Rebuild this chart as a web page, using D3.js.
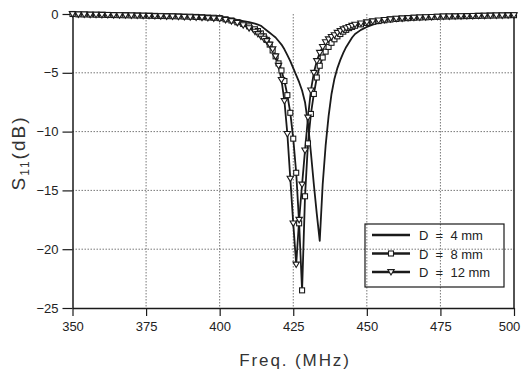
<!DOCTYPE html>
<html>
<head>
<meta charset="utf-8">
<script src="https://cdn.jsdelivr.net/npm/d3@7"></script>
<style>
  body { margin: 0; background: #fff; }
  svg { display: block; font-family: "Liberation Sans", Arial, sans-serif; }
</style>
</head>
<body>
<div id="chart"></div>
<script>
// Frequency grid (MHz) shared by the three curves
const FREQ = [350,352,354,356,358,360,362,364,366,368,370,372,374,376,378,380,382,384,386,388,390,392,394,396,398,
  400,402,404,406,408,410,412,
  413,414,415,416,417,418,419,420,421,422,423,424,425,426,427,428,429,430,431,432,433,434,435,436,437,438,439,440,441,442,443,444,445,446,
  448,450,452,454,456,458,460,462,464,466,468,470,472,474,476,478,480,482,484,486,488,490,492,494,496,498,500];

// S11 (dB)
const S11_D4 = [0,-0.02,-0.03,-0.04,-0.05,-0.06,-0.07,-0.08,-0.09,-0.1,-0.1,-0.11,-0.12,-0.13,-0.14,-0.15,-0.16,-0.17,-0.18,-0.19,-0.2,-0.22,-0.24,-0.26,-0.28,
  -0.3,-0.35,-0.42,-0.5,-0.6,-0.7,-0.82,
  -0.9,-1.0,-1.2,-1.4,-1.6,-1.8,-2.0,-2.3,-2.6,-3.0,-3.5,-4.0,-4.6,-5.2,-5.8,-6.5,-7.5,-9.3,-11.8,-14.5,-17.0,-19.3,-14.5,-11.2,-8.7,-6.8,-5.5,-4.6,-3.9,-3.3,-2.8,-2.4,-2.0,-1.7,
  -1.35,-1.1,-0.9,-0.75,-0.65,-0.56,-0.5,-0.45,-0.4,-0.36,-0.33,-0.3,-0.28,-0.26,-0.24,-0.22,-0.2,-0.19,-0.18,-0.17,-0.16,-0.15,-0.14,-0.13,-0.12,-0.11,-0.1];

const S11_D8 = [0,-0.03,-0.04,-0.05,-0.06,-0.07,-0.08,-0.09,-0.1,-0.11,-0.12,-0.13,-0.14,-0.15,-0.16,-0.17,-0.18,-0.19,-0.2,-0.22,-0.23,-0.25,-0.27,-0.3,-0.32,
  -0.35,-0.45,-0.55,-0.7,-0.85,-1.05,-1.3,
  -1.45,-1.65,-1.9,-2.2,-2.6,-3.1,-3.6,-4.2,-4.8,-5.7,-6.9,-8.4,-10.6,-13.5,-17.8,-23.5,-15.5,-11.0,-8.5,-6.8,-5.4,-4.4,-3.7,-3.2,-2.8,-2.45,-2.15,-1.9,-1.7,-1.5,-1.35,-1.2,-1.1,-1.0,
  -0.88,-0.76,-0.67,-0.6,-0.53,-0.47,-0.42,-0.38,-0.35,-0.32,-0.3,-0.28,-0.26,-0.24,-0.22,-0.21,-0.2,-0.19,-0.18,-0.17,-0.16,-0.15,-0.14,-0.13,-0.12,-0.11,-0.1];

const S11_D12 = [0,-0.03,-0.04,-0.05,-0.06,-0.07,-0.08,-0.09,-0.1,-0.11,-0.12,-0.13,-0.14,-0.15,-0.17,-0.18,-0.2,-0.21,-0.23,-0.25,-0.27,-0.29,-0.31,-0.34,-0.37,
  -0.4,-0.5,-0.6,-0.75,-0.95,-1.2,-1.5,
  -1.7,-1.9,-2.1,-2.3,-2.6,-3.0,-3.6,-4.4,-5.6,-7.4,-10.2,-14.0,-17.8,-21.3,-17.5,-14.5,-11.6,-8.8,-6.5,-5.0,-4.0,-3.3,-2.8,-2.4,-2.15,-1.95,-1.8,-1.6,-1.45,-1.3,-1.2,-1.1,-1.0,-0.9,
  -0.8,-0.7,-0.62,-0.55,-0.5,-0.45,-0.4,-0.37,-0.34,-0.31,-0.29,-0.27,-0.25,-0.23,-0.21,-0.2,-0.19,-0.18,-0.17,-0.16,-0.15,-0.14,-0.13,-0.12,-0.12,-0.11,-0.1];

const X_TICKS = [350, 375, 400, 425, 450, 475, 500];
const Y_TICKS = [0, -5, -10, -15, -20, -25];
const LEGEND_LABELS = ['D = 4 mm', 'D = 8 mm', 'D = 12 mm'];
const MARKERS = ['none', 'square', 'triangle'];

const W = 521, H = 374;
const svg = d3.select('#chart').append('svg').attr('width', W).attr('height', H);

const x = d3.scaleLinear().domain([350, 500]).range([72.5, 514]);
const y = d3.scaleLinear().domain([-25, 0]).range([308, 14]);

const ink = '#1a1a1a';

// grid lines
svg.append('g').selectAll('line')
  .data(X_TICKS.slice(1, -1)).enter().append('line')
  .attr('x1', d => x(d)).attr('x2', d => x(d))
  .attr('y1', y(0)).attr('y2', y(-25))
  .attr('stroke', '#555').attr('stroke-width', 0.8).attr('stroke-dasharray', '1.5,1.5');
svg.append('g').selectAll('line')
  .data(Y_TICKS.slice(1, -1)).enter().append('line')
  .attr('x1', x(350)).attr('x2', x(500))
  .attr('y1', d => y(d)).attr('y2', d => y(d))
  .attr('stroke', '#555').attr('stroke-width', 0.8).attr('stroke-dasharray', '1.5,1.5');

// axes
const xAxis = svg.append('g').attr('transform', `translate(0,${y(-25)})`)
  .call(d3.axisBottom(x).tickValues(X_TICKS).tickSize(8).tickSizeOuter(0).tickPadding(6));
const yAxis = svg.append('g').attr('transform', `translate(${x(350)},0)`)
  .call(d3.axisLeft(y).tickValues(Y_TICKS).tickSize(10).tickSizeOuter(0).tickPadding(4));
[xAxis, yAxis].forEach(a => {
  a.select('.domain').attr('stroke', ink).attr('stroke-width', 1.5);
  a.selectAll('.tick line').attr('stroke', ink).attr('stroke-width', 1.2);
  a.selectAll('.tick text').attr('fill', '#222').attr('font-size', 13)
    .attr('font-family', '"Liberation Sans", Arial, sans-serif');
});
// last x label sits inside the page edge
xAxis.selectAll('.tick text').filter(d => d === 500).attr('dx', -5);

// right border
svg.append('line')
  .attr('x1', x(500)).attr('x2', x(500)).attr('y1', y(0)).attr('y2', y(-25))
  .attr('stroke', ink).attr('stroke-width', 1.5);

// curves
const series = [S11_D4, S11_D8, S11_D12].map(vals => FREQ.map((f, i) => [f, vals[i]]));
const line = d3.line().x(d => x(d[0])).y(d => y(d[1]));

series.forEach(pts => {
  svg.append('path').datum(pts)
    .attr('d', line).attr('fill', 'none')
    .attr('stroke', ink).attr('stroke-width', 1.8).attr('stroke-linejoin', 'round');
});

function drawMarker(g, kind, cx, cy) {
  if (kind === 'square') {
    g.append('rect').attr('x', cx - 2.5).attr('y', cy - 2.5).attr('width', 5).attr('height', 5)
      .attr('fill', '#fff').attr('stroke', ink).attr('stroke-width', 1.1);
  } else if (kind === 'triangle') {
    g.append('path').attr('d', `M${cx - 3.2},${cy - 2.4}L${cx + 3.2},${cy - 2.4}L${cx},${cy + 3}Z`)
      .attr('fill', '#fff').attr('stroke', ink).attr('stroke-width', 1.1);
  }
}

series.forEach((pts, k) => {
  if (MARKERS[k] === 'none') return;
  const g = svg.append('g');
  pts.forEach(d => drawMarker(g, MARKERS[k], x(d[0]), y(d[1])));
});

// legend
const lg = svg.append('g');
lg.append('rect').attr('x', 365).attr('y', 224).attr('width', 139).attr('height', 63)
  .attr('fill', 'none').attr('stroke', ink).attr('stroke-width', 1.2);
LEGEND_LABELS.forEach((lab, i) => {
  const ly = 235 + i * 18.5;
  lg.append('line').attr('x1', 372).attr('x2', 410).attr('y1', ly).attr('y2', ly)
    .attr('stroke', ink).attr('stroke-width', 2.6);
  drawMarker(lg, MARKERS[i], 391, ly);
  lg.append('text').attr('x', 419).attr('y', ly + 5)
    .attr('font-size', 13).attr('fill', '#222').style('white-space', 'pre')
    .text(lab.replace(/ = /, '  =  '));
});

// axis titles
svg.append('text')
  .attr('x', 295).attr('y', 366).attr('text-anchor', 'middle')
  .attr('font-size', 17).attr('letter-spacing', 1.9).attr('fill', '#333')
  .text('Freq. (MHz)');

const yt = svg.append('text')
  .attr('transform', 'translate(25,153) rotate(-90)')
  .attr('text-anchor', 'middle').attr('font-size', 19).attr('letter-spacing', 2).attr('fill', '#333');
yt.append('tspan').text('S');
yt.append('tspan').attr('font-size', 12).attr('dy', 4).text('11');
yt.append('tspan').attr('dy', -4).text('(dB)');
</script>
</body>
</html>
